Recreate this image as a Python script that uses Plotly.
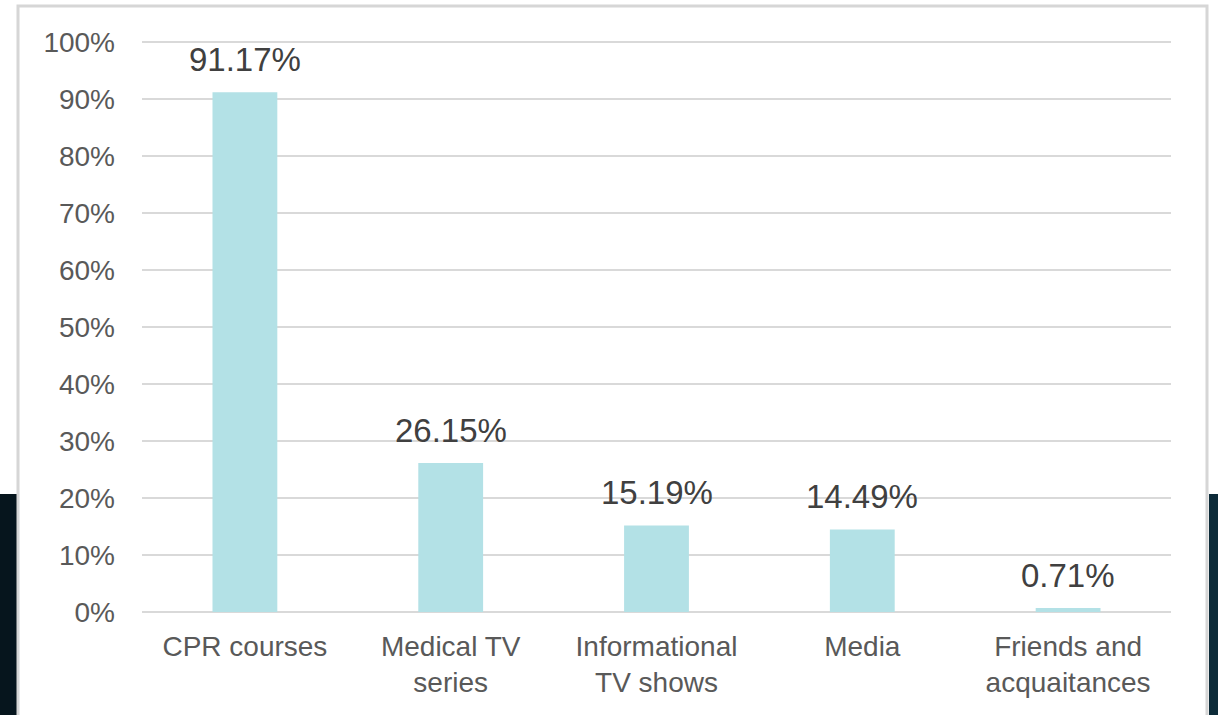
import plotly.graph_objects as go

categories = ["CPR courses", "Medical TV<br>series", "Informational<br>TV shows", "Media", "Friends and<br>acquaitances"]
values = [91.17, 26.15, 15.19, 14.49, 0.71]
label_texts = ["91.17%", "26.15%", "15.19%", "14.49%", "0.71%"]
y_ticks = [0, 10, 20, 30, 40, 50, 60, 70, 80, 90, 100]

W, H = 1218, 715
ML, MR, MT, MB = 142, 47, 39, 103
PW = W - ML - MR
PH = H - MT - MB

def px_x(x):
    return (x - ML) / PW

def px_y(y):
    return (H - MB - y) / PH

fig = go.Figure()
fig.add_trace(go.Bar(
    x=categories, y=values,
    marker=dict(color="#b3e1e6", line=dict(width=0)),
    text=label_texts, textposition="none",
    hoverinfo="skip",
))

for c, v, t in zip(categories, values, label_texts):
    fig.add_annotation(x=c, y=v, text=t, showarrow=False, yanchor="bottom",
                       yshift=12, font=dict(family="Liberation Sans, Arial", size=33, color="#404040"))

shapes = [
    dict(type="rect", xref="paper", yref="paper", x0=px_x(-5), x1=px_x(17), y0=px_y(494), y1=px_y(720),
         fillcolor="#06151d", line=dict(width=0), layer="below"),
    dict(type="rect", xref="paper", yref="paper", x0=px_x(1209), x1=px_x(1225), y0=px_y(494), y1=px_y(720),
         fillcolor="#0d2b39", line=dict(width=0), layer="below"),
    dict(type="rect", xref="paper", yref="paper", x0=px_x(18), x1=px_x(1207), y0=px_y(6), y1=px_y(725),
         fillcolor="rgba(0,0,0,0)", line=dict(color="#d6d6d6", width=3), layer="below"),
]

fig.update_layout(
    width=W, height=H,
    margin=dict(l=ML, r=MR, t=MT, b=MB, pad=0),
    paper_bgcolor="white", plot_bgcolor="white",
    bargap=0.685,
    showlegend=False,
    shapes=shapes,
    font=dict(family="Liberation Sans, Arial", color="#595959"),
    xaxis=dict(
        showgrid=False, showline=False, zeroline=False,
        tickfont=dict(size=28, color="#595959"),
        ticklabelstandoff=15,
        fixedrange=True,
    ),
    yaxis=dict(
        range=[0, 100.5], tickvals=y_ticks, ticktext=[f"{v}%" for v in y_ticks],
        showgrid=True, gridcolor="#d9d9d9", gridwidth=2,
        zeroline=True, zerolinecolor="#d9d9d9", zerolinewidth=2,
        showline=False,
        tickfont=dict(size=28, color="#595959"),
        ticklabelstandoff=26,
        fixedrange=True,
    ),
)

fig.write_html("out.html", config={"displayModeBar": False, "staticPlot": True},
               post_script="document.body.style.margin='0';document.body.style.padding='0';document.body.style.overflow='hidden';")
